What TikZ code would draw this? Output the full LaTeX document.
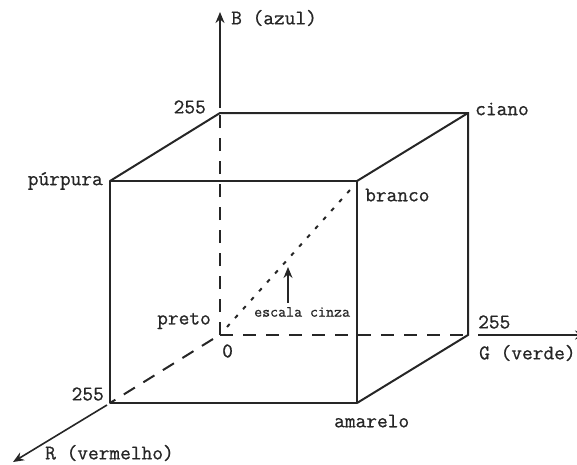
\documentclass[tikz,border=0pt]{standalone}
\usepackage{fontspec}
\newfontfamily\lblfont{Latin Modern Mono}[FakeBold=0.8]
\usetikzlibrary{arrows.meta, positioning}

\begin{document}
\begin{tikzpicture}[x=1pt, y=-1pt, >={Stealth[length=11pt, width=9pt]},
  edge/.style={draw=black!85, line width=2pt},
  hidden/.style={edge, dash pattern=on 13pt off 10pt},
  axis/.style={edge, ->},
  lbl/.style={inner sep=0pt, font=\lblfont\fontsize{20.8}{22}\selectfont, text=black!85},
  small/.style={inner sep=0pt, font=\lblfont\fontsize{15.5}{17}\selectfont, text=black!85}]
  \useasboundingbox (0,0) rectangle (577,464);
  % corners of the cube
  \coordinate (preto) at (220,335);
  \coordinate (blue) at (220,113);
  \coordinate (green) at (468,335);
  \coordinate (red) at (110,403);
  \coordinate (ciano) at (468,113);
  \coordinate (purpura) at (110,181);
  \coordinate (branco) at (357,181);
  \coordinate (amarelo) at (357,403);
  % axis ends
  \coordinate (btip) at (220,12);
  \coordinate (bstart) at (220,108);
  \coordinate (gtip) at (586,335);
  \coordinate (gstart) at (478,335);
  \coordinate (rtip) at (13,462);
  \coordinate (rstart) at (107,405);
  \coordinate (rdash) at (213,339);
  \coordinate (gray0) at (227,327);
  \coordinate (gray1) at (350,190);
  \coordinate (arrow0) at (288,303);
  \coordinate (arrow1) at (288,267);
  % cube
  \draw[edge, line join=round] (purpura) rectangle (amarelo);
  \draw[edge] (purpura) -- (blue) -- (ciano) -- (green) -- (amarelo);
  \draw[edge] (branco) -- (ciano);
  % hidden edges
  \draw[hidden] (preto) -- (blue);
  \draw[hidden] (preto) -- (green);
  \draw[hidden] (rdash) -- (red);
  \draw[edge, dash pattern=on 4pt off 8pt] (gray0) -- (gray1);
  % axes
  \draw[axis] (bstart) -- (btip);
  \draw[axis] (gstart) -- (gtip);
  \draw[axis, line width=1.6pt] (rstart) -- (rtip);
  \draw[->, black!85, line width=1.4pt] (arrow0) -- (arrow1);
  % labels
  \node[lbl, anchor=west] (blab) at (231,18) {B (azul)};
  \node[lbl, anchor=west] (rlab) at (45,453) {R (vermelho)};
  \node[lbl, anchor=west] (glab) at (479,353) {G (verde)};
  \node[lbl, anchor=east] (b255) at (206,107) {255};
  \node[lbl, anchor=east] (r255) at (104,394) {255};
  \node[lbl, anchor=west] (g255) at (478,322) {255};
  \node[lbl, anchor=west] (zero) at (222,351) {0};
  \node[lbl, anchor=west] (lciano) at (475,109) {ciano};
  \node[lbl, anchor=east] (lpurpura) at (103,181) {púrpura};
  \node[lbl, anchor=west] (lbranco) at (365,195) {branco};
  \node[lbl, anchor=east] (lpreto) at (211,321) {preto};
  \node[lbl, anchor=west] (lamarelo) at (334,421) {amarelo};
  \node[small, anchor=west] (lcinza) at (254,312) {escala cinza};
\end{tikzpicture}
\end{document}
